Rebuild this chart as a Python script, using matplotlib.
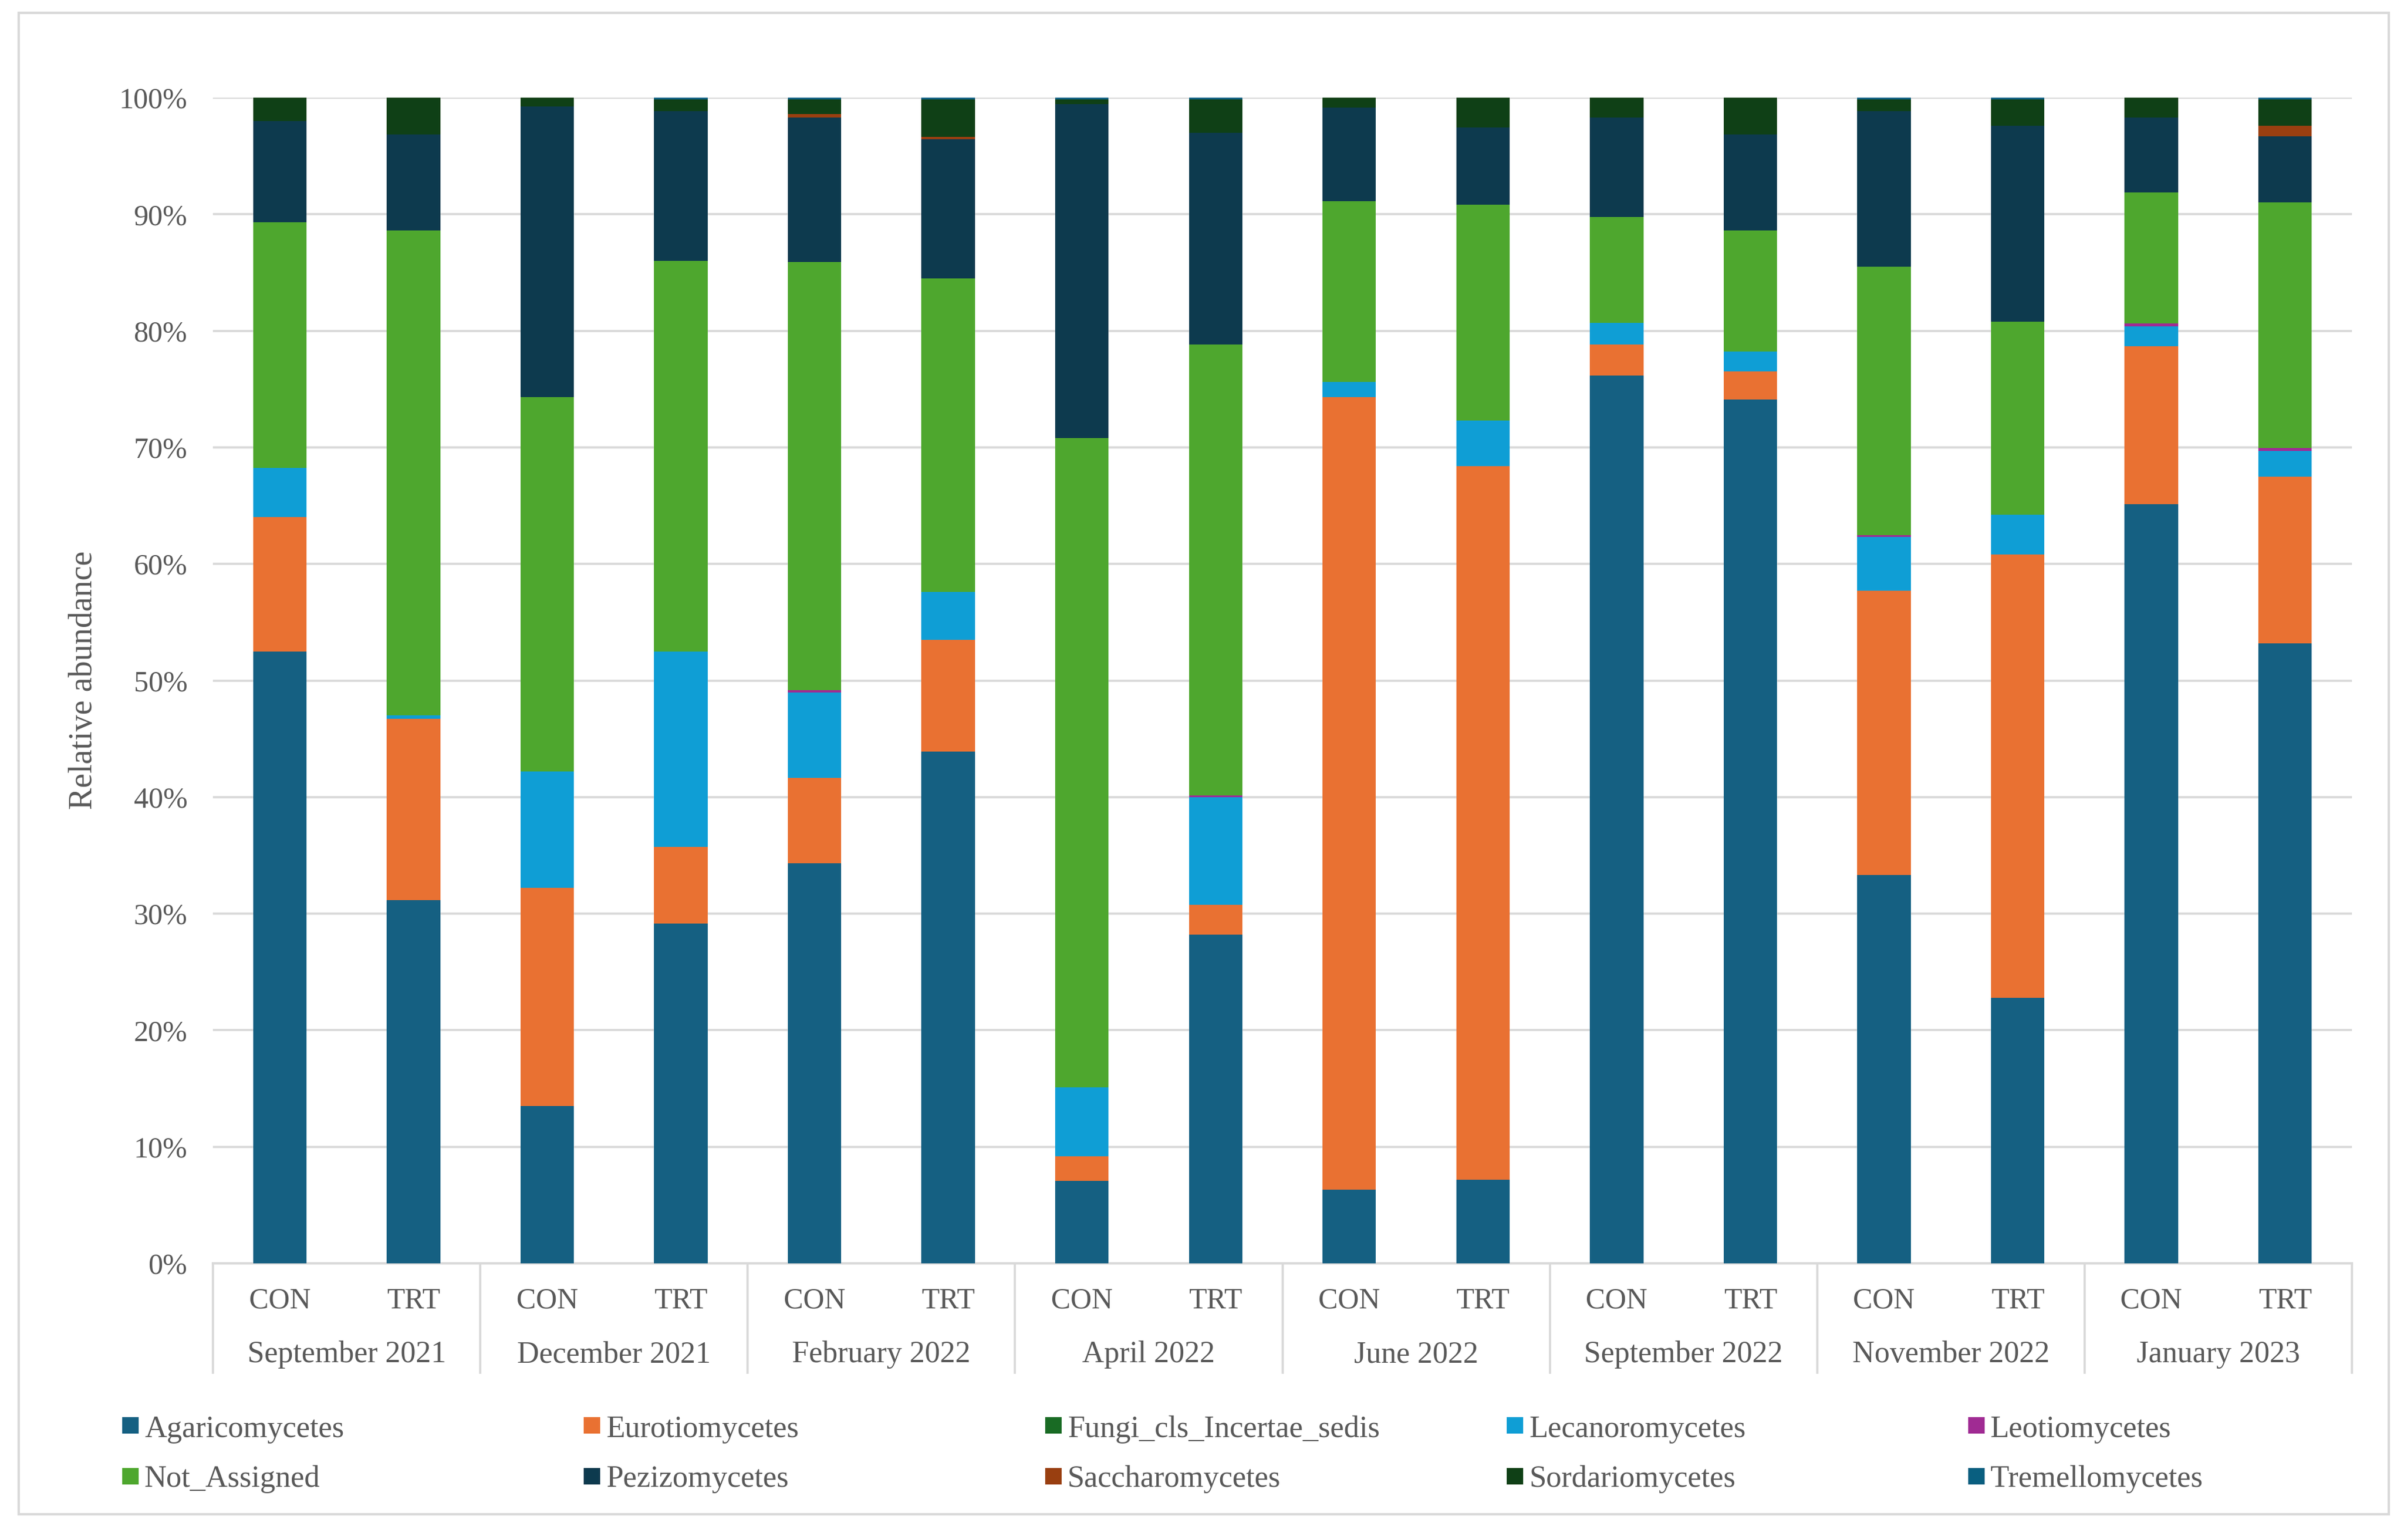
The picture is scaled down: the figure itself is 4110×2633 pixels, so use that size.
import numpy as np
import matplotlib.pyplot as plt
import matplotlib.transforms as mtransforms
from matplotlib.patches import Rectangle

plt.rcParams['font.family'] = ['Liberation Serif', 'DejaVu Serif']

# Datos (% abundancia relativa)
months = ["September 2021", "December 2021", "February 2022", "April 2022",
          "June 2022", "September 2022", "November 2022", "January 2023"]
treatments = ["CON", "TRT"] * 8

agaricomycetes = [52.5, 31.15, 13.5, 29.16, 34.3, 43.9, 7.06, 28.2,
                  6.34, 7.2, 76.15, 74.1, 33.3, 22.8, 65.15, 53.2]
eurotiomycetes = [11.5, 15.55, 18.7, 6.54, 7.35, 9.57, 2.14, 2.55,
                  67.96, 61.2, 2.7, 2.4, 24.4, 38.0, 13.55, 14.3]
fungi_incertae = [0, 0, 0, 0, 0, 0, 0, 0, 0, 0, 0, 0, 0, 0, 0, 0]
lecanoromycetes = [4.25, 0.3, 10.0, 16.77, 7.3, 4.11, 5.9, 9.25,
                   1.3, 3.9, 1.85, 1.7, 4.6, 3.4, 1.7, 2.2]
leotiomycetes = [0, 0, 0, 0, 0.2, 0, 0, 0.15, 0, 0, 0, 0, 0.17, 0, 0.25, 0.25]
not_assigned = [21.05, 41.6, 32.1, 33.53, 36.75, 26.92, 55.7, 38.7,
                15.5, 18.54, 9.05, 10.4, 23.03, 16.6, 11.2, 21.05]
pezizomycetes = [8.7, 8.24, 24.94, 12.86, 12.37, 11.93, 28.63, 18.15,
                 8.03, 6.59, 8.52, 8.24, 13.35, 16.78, 6.42, 5.7]
saccharomycetes = [0, 0, 0, 0, 0.33, 0.2, 0, 0, 0, 0, 0, 0, 0, 0, 0, 0.87]
sordariomycetes = [2.0, 3.16, 0.76, 1.0, 1.25, 3.22, 0.42, 2.85,
                   0.87, 2.57, 1.73, 3.16, 1.0, 2.27, 1.73, 2.28]
tremellomycetes = [0, 0, 0, 0.14, 0.15, 0.15, 0.15, 0.15,
                   0, 0, 0, 0, 0.15, 0.15, 0, 0.15]

names = ["Agaricomycetes", "Eurotiomycetes", "Fungi_cls_Incertae_sedis",
         "Lecanoromycetes", "Leotiomycetes", "Not_Assigned", "Pezizomycetes",
         "Saccharomycetes", "Sordariomycetes", "Tremellomycetes"]
series = [agaricomycetes, eurotiomycetes, fungi_incertae, lecanoromycetes,
          leotiomycetes, not_assigned, pezizomycetes, saccharomycetes,
          sordariomycetes, tremellomycetes]
colores = ["#156082", "#E97132", "#196B24", "#0F9ED5", "#A02B93",
           "#4EA72E", "#0D3A4E", "#993F10", "#0F4016", "#095F80"]

gris = "#595959"
linea = "#D9D9D9"

W, H = 4110, 2633
fig = plt.figure(figsize=(W / 300, H / 300), dpi=300)
ax = fig.add_axes([364 / W, 1 - 2160 / H, (4021 - 364) / W, (2160 - 167) / H])

x = np.arange(16)
bottom = np.zeros(16)
for name, vals, col in zip(names, series, colores):
    vals = np.array(vals, dtype=float)
    ax.bar(x, vals, 0.4, bottom=bottom, color=col, label=name, zorder=3, linewidth=0)
    bottom += vals

ax.set_xlim(-0.5, 15.5)
ax.set_ylim(0, 100)
ax.set_yticks(range(0, 101, 10))
ax.set_yticklabels([f"{v}%" for v in range(0, 101, 10)], fontsize=12, color=gris)
ax.tick_params(axis='y', length=0, pad=10.5)
ax.set_xticks([])
ax.yaxis.grid(True, color=linea, lw=0.9)
ax.set_axisbelow(True)
for s in ["top", "right", "left"]:
    ax.spines[s].set_visible(False)
ax.spines["bottom"].set_color(linea)
ax.spines["bottom"].set_linewidth(0.9)

# Etiquetas del eje x en dos niveles
trans = mtransforms.blended_transform_factory(ax.transData, ax.transAxes)
for i, t in enumerate(treatments):
    ax.text(x[i], -0.0386, t, transform=trans, ha="center", va="baseline",
            fontsize=12, color=gris)
for j, m in enumerate(months):
    ax.text(2 * j + 0.5, -0.0848, m, transform=trans, ha="center", va="baseline",
            fontsize=12.5, color=gris)
for k in range(9):
    xs = 2 * k - 0.5
    ax.plot([xs, xs], [0, -0.0938], transform=trans, color=linea, lw=0.9, clip_on=False)

fig.text(143 / W, 1 - 1163 / H, "Relative abundance", rotation=90,
         ha="center", va="center", fontsize=13.5, color=gris)

# Leyenda
for i, (name, col) in enumerate(zip(names, colores)):
    fila, colum = divmod(i, 5)
    x0 = 211 + colum * 789
    ytop = 2425 + fila * 87
    fig.patches.append(Rectangle((x0 / W, 1 - (ytop + 24) / H), 24 / W, 24 / H,
                                 transform=fig.transFigure, color=col))
    fig.text((x0 + 36) / W, 1 - (2457 + fila * 85) / H, name, ha="left",
             va="baseline", fontsize=12.6, color=gris)

# Borde del gráfico
fig.patches.append(Rectangle((32 / W, 1 - 2589 / H), (4084 - 32) / W, (2589 - 22) / H,
                             transform=fig.transFigure, fill=False, ec=linea, lw=1.0))

fig.savefig("out.png", dpi=300)
